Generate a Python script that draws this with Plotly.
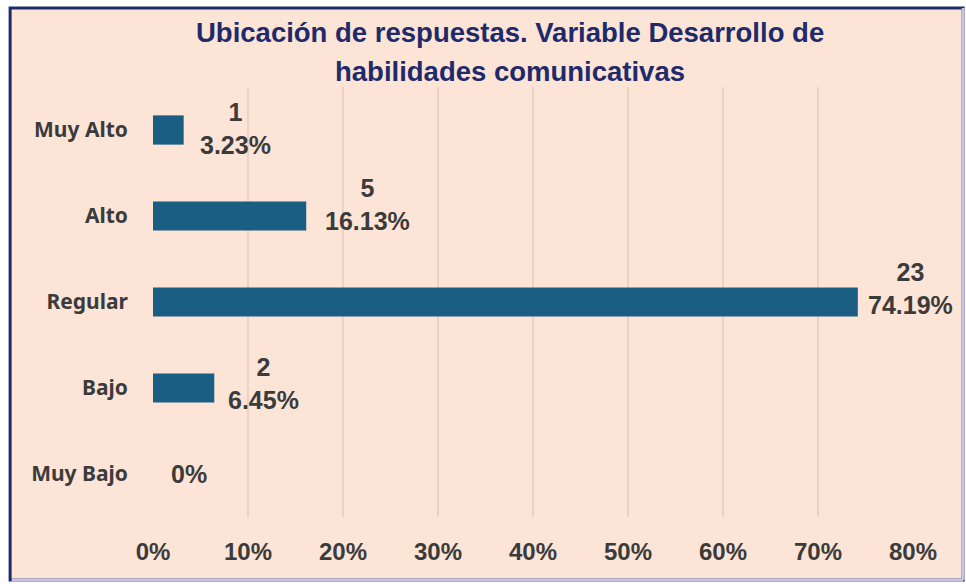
import plotly.graph_objects as go

categories = ["Muy Alto", "Alto", "Regular", "Bajo", "Muy Bajo"]
counts = [1, 5, 23, 2, 0]
percents = [3.23, 16.13, 74.19, 6.45, 0]
x_ticks = [0, 10, 20, 30, 40, 50, 60, 70, 80]
x_tick_labels = ["0%", "10%", "20%", "30%", "40%", "50%", "60%", "70%", "80%"]
title_lines = ["Ubicación de respuestas. Variable Desarrollo de",
               "habilidades comunicativas"]

# label offsets (pixels) to mimic the hand-placed data labels
label_xshift = [14, 17, 8, 12, 16]
label_yshift = [2, 12, 14, 5, 0]

BG = "#FCE4D6"
BAR = "#1B5E84"
NAVY = "#1F2A6B"
TXT = "#3B3B3B"

fig = go.Figure()
fig.add_trace(go.Bar(
    y=categories, x=percents, orientation="h",
    marker=dict(color=BAR, line=dict(width=0)),
    width=0.34, hoverinfo="skip",
))

for cat, c, p, dx, dy in zip(categories, counts, percents, label_xshift, label_yshift):
    pct = f"{p:g}%" if p == 0 else f"{p:.2f}%"
    text = pct if c == 0 else f"{c}<br>{pct}"
    fig.add_annotation(
        x=p, y=cat, xref="x", yref="y", text=text, showarrow=False,
        xanchor="left", yanchor="middle", xshift=dx, yshift=dy, align="center",
        font=dict(family="Liberation Sans, Arial, sans-serif", size=25,
                  color=TXT, weight="bold"),
    )

# chart frame (peach fill, navy border, lighter right/bottom edges)
fig.add_shape(type="rect", xref="paper", yref="paper",
              x0=-0.188, x1=1.066, y0=-0.1465, y1=1.184,
              fillcolor=BG, line=dict(color=NAVY, width=3), layer="below")
fig.add_shape(type="line", xref="paper", yref="paper",
              x0=1.066, x1=1.066, y0=-0.1465, y1=1.184,
              line=dict(color="#C9C6E4", width=3), layer="above")
fig.add_shape(type="line", xref="paper", yref="paper",
              x0=-0.186, x1=1.066, y0=-0.1465, y1=-0.1465,
              line=dict(color="#C9C6E4", width=3), layer="above")

for line, ty in zip(title_lines, [1.1256, 1.0349]):
    fig.add_annotation(
        text=f"<b>{line}</b>",
        xref="paper", yref="paper", x=0.47, y=ty, xanchor="center", yanchor="middle",
        showarrow=False, align="center",
        font=dict(family="Liberation Sans, Arial, sans-serif", size=27.5, color=NAVY),
    )

fig.update_layout(
    width=966, height=584,
    margin=dict(l=153, r=53, t=87, b=67),
    paper_bgcolor="white", plot_bgcolor="rgba(0,0,0,0)",
    showlegend=False,
    xaxis=dict(
        range=[0, 80], tickvals=x_ticks, ticktext=x_tick_labels,
        showgrid=True, gridcolor="#EAD3C5", gridwidth=1.5,
        zeroline=False, showline=False, ticks="",
        ticklabelstandoff=18,
        tickfont=dict(family="Liberation Sans, Arial, sans-serif",
                      size=24, color=TXT, weight="bold"),
    ),
    yaxis=dict(
        categoryorder="array", categoryarray=categories, autorange="reversed",
        showgrid=False, zeroline=False, showline=False, ticks="",
        ticklabelstandoff=24,
        tickfont=dict(family="Noto Sans, Open Sans, sans-serif", size=21,
                      color=TXT, weight="bold"),
    ),
    font=dict(color=TXT),
)

fig.write_html("out.html", config={"displayModeBar": False},
               post_script="document.body.style.margin='0';document.body.style.overflow='hidden';")
